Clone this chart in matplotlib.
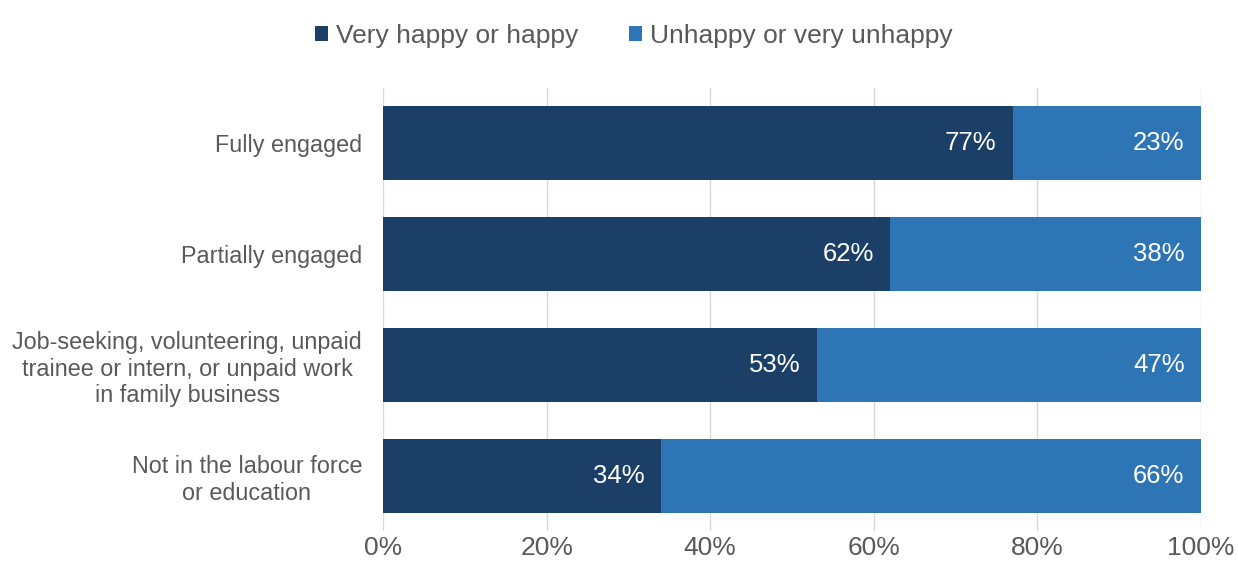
import matplotlib.pyplot as plt
from matplotlib.ticker import PercentFormatter

# Happiness by engagement status, stacked 100% bars

categories = ['Fully engaged', 'Partially engaged',
              'Job-seeking, volunteering, unpaid\ntrainee or intern, or unpaid work\nin family business',
              'Not in the labour force\nor education']
happy = [77, 62, 53, 34]
unhappy = [23, 38, 47, 66]
series_names = ['Very happy or happy', 'Unhappy or very unhappy']
colors = ['#1B3F66', '#2E75B6']
text_color = '#595959'

plt.rcParams['font.family'] = ['Liberation Sans', 'DejaVu Sans']

fig = plt.figure(figsize=(12.38, 5.75), dpi=100)
ax = fig.add_axes([0.3094, 0.0757, 0.6607, 0.7721])

y = list(range(len(categories)))
ax.barh(y, happy, height=0.667, color=colors[0], label=series_names[0], zorder=2)
ax.barh(y, unhappy, left=happy, height=0.667, color=colors[1], label=series_names[1], zorder=2)

for i in y:
    ax.text(happy[i] - 2, i, f'{happy[i]}%', ha='right', va='center', color='white', fontsize=18.5)
    ax.text(100 - 2, i, f'{unhappy[i]}%', ha='right', va='center', color='white', fontsize=18.5)

ax.set_xlim(0, 100)
ax.set_ylim(len(categories) - 0.5, -0.5)
ax.set_yticks(y)
ax.set_yticklabels(categories, fontsize=16.8, color=text_color, ha='right', multialignment='center')
ax.tick_params(axis='y', length=0, pad=15)
ax.set_xticks([0, 20, 40, 60, 80, 100])
ax.xaxis.set_major_formatter(PercentFormatter(decimals=0))
ax.tick_params(axis='x', length=0, labelsize=19, labelcolor=text_color, pad=3)
ax.grid(axis='x', color='#D9D9D9', linewidth=1, zorder=0)
ax.set_axisbelow(True)
for s in ax.spines.values():
    s.set_visible(False)

fig.legend(loc='upper center', bbox_to_anchor=(0.512, 1.0), ncol=2, frameon=False,
           fontsize=19, labelcolor=text_color, handlelength=0.5, handleheight=0.5,
           handletextpad=0.3, columnspacing=1.9)

plt.savefig('out.png', dpi=100)
